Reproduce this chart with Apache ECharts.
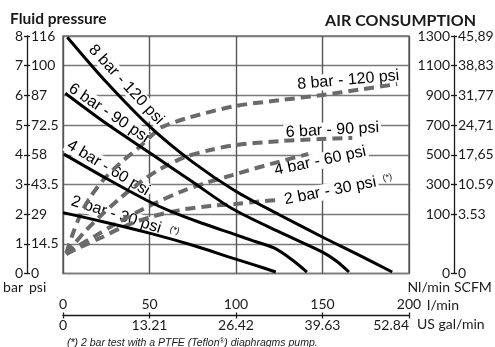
<!DOCTYPE html>
<html>
<head>
<meta charset="utf-8">
<script src="https://cdn.jsdelivr.net/npm/echarts@6/dist/echarts.min.js"></script>
<style>
  html, body { margin: 0; padding: 0; background: #fff; }
  #chart { width: 495px; height: 347px; }
</style>
</head>
<body>
<div id="chart"></div>
<script>
// Axis ticks and their printed labels
const flowTicks = [0, 50, 100, 150, 200];
const galLabels = ['0', '13.21', '26.42', '39.63', '52.84'];
const psiLabels = ['0', '14.5', '29', '43.5', '58', '72.5', '87', '100', '116'];
const airTicks = [-300, 100, 300, 500, 700, 900, 1100, 1300];
const nlLabels = ['0', '100', '300', '500', '700', '900', '1100', '1300'];
const scfmLabels = ['0', '3.53', '10.59', '17,65', '24,71', '31,77', '38,83', '45,89'];

// Fluid pressure (bar) against flow (l/min), one curve per supply pressure
const pressure8 = [[2.5, 7.96], [25, 6.45], [50.5, 4.93], [75, 3.75], [99.6, 2.78], [125, 1.98], [149.9, 1.23], [170, 0.65], [190.3, 0.05]];
const pressure6 = [[1.3, 6.07], [25, 5.05], [50.5, 4.05], [75, 3.08], [97.9, 2.18], [125, 1.4], [150, 0.72], [158, 0.42], [165.3, 0.05]];
const pressure4 = [[0.5, 4.02], [25.4, 3.19], [48.6, 2.46], [62, 2.1], [80, 1.7], [99.6, 1.31], [110, 1.1], [122, 0.86], [132, 0.48], [141, 0.05]];
const pressure2 = [[0, 2.05], [25, 1.72], [50, 1.36], [75, 0.95], [98, 0.52], [110, 0.3], [123, 0.05]];

// Air consumption (Nl/min) against flow (l/min)
const air8 = [[1.9, -162], [5.4, -41], [10, 94], [15.8, 215], [23.3, 330], [33.1, 444], [43.5, 545], [51.6, 633], [57.4, 687], [71.8, 747], [99.6, 828], [125.6, 868], [149.9, 902], [171.9, 940], [193.2, 976]];
const air6 = [[1.9, -169], [6.5, -101], [12.9, -14], [21.6, 87], [33.1, 208], [44.7, 316], [56.2, 404], [70.7, 485], [85.1, 532], [99.6, 565], [125.6, 592], [148.7, 606], [167.2, 613]];
const air4 = [[1.9, -169], [8.8, -115], [18.7, -47], [30.2, 33], [41.8, 107], [53.4, 175], [67.8, 249], [82.3, 309], [97.9, 363], [119.8, 437], [141.8, 505]];
const air2 = [[1.9, -169], [10, -122], [21.6, -61], [36, 20], [50.5, 80], [67.8, 128], [85.1, 155], [99.6, 168], [114, 185], [123.9, 195]];

const humanist = 'Lato';
const arial = 'Liberation Sans';
const ink = '#1a1a1a';

const chart = echarts.init(document.getElementById('chart'), null, { renderer: 'canvas' });

function solid(data) {
  return {
    type: 'line', data, xAxisIndex: 0, yAxisIndex: 0,
    smooth: 0.3, showSymbol: false, silent: true,
    lineStyle: { color: '#000', width: 3 }, z: 3
  };
}
function dashed(data) {
  return {
    type: 'line', data, xAxisIndex: 0, yAxisIndex: 2,
    smooth: 0.3, showSymbol: false, silent: true,
    lineStyle: { color: '#6a6a6a', width: 4, type: [10, 6], cap: 'butt' }, z: 3
  };
}

const tickLabel = { fontFamily: humanist, fontSize: 14, color: ink };
const axisInk = { color: ink, width: 1.3 };

chart.setOption({
  animation: false,
  title: [
    { text: 'Fluid pressure', left: 5, top: 6, textStyle: { fontFamily: humanist, fontSize: 15.5, fontWeight: 'bold', color: ink } },
    { text: 'AIR CONSUMPTION', right: 14, top: 8, textStyle: { fontFamily: humanist, fontSize: 16, fontWeight: 'bold', color: ink } },
    {
      text: '(*) 2 bar test with a PTFE (Teflon{sup|®}) diaphragms pump.', left: 62, top: 333,
      textStyle: {
        fontFamily: arial, fontSize: 10.5, fontStyle: 'italic', fontWeight: 'normal', color: ink,
        rich: { sup: { fontFamily: arial, fontSize: 6.5, fontStyle: 'italic', fontWeight: 'normal', verticalAlign: 'top', color: ink } }
      }
    }
  ],
  grid: {
    left: 63, right: 86, top: 36, bottom: 73.5,
    outerBoundsMode: 'none',
    show: true, borderColor: '#6e6e6e', borderWidth: 1.5
  },
  xAxis: [
    {
      type: 'value', min: 0, max: 200, interval: 50, position: 'bottom', offset: 42,
      axisLine: { show: true, onZero: false, lineStyle: axisInk },
      axisTick: { show: true, inside: true, length: 3, lineStyle: axisInk },
      axisLabel: Object.assign({ inside: true, margin: 4 }, tickLabel),
      splitLine: { show: true, lineStyle: { color: '#555', width: 1.4 } },
      name: 'l/min', nameLocation: 'end', nameGap: 15,
      nameTextStyle: Object.assign({ verticalAlign: 'bottom', padding: [0, 0, 3, 0] }, tickLabel)
    },
    {
      type: 'value', min: 0, max: 200, interval: 50, position: 'bottom', offset: 42,
      axisLine: { show: false, onZero: false },
      axisTick: { show: true, inside: false, length: 3, lineStyle: axisInk },
      axisLabel: Object.assign({ margin: 3, alignMaxLabel: 'right', formatter: v => galLabels[flowTicks.indexOf(v)] }, tickLabel),
      splitLine: { show: false },
      name: 'US gal/min', nameLocation: 'end', nameGap: 8,
      nameTextStyle: Object.assign({ verticalAlign: 'top', padding: [2, 0, 0, 0] }, tickLabel)
    }
  ],
  yAxis: [
    {
      type: 'value', min: 0, max: 8, interval: 1, position: 'left', offset: 36,
      axisLine: { show: true, onZero: false, lineStyle: axisInk },
      axisTick: { show: true, inside: false, length: 3, lineStyle: axisInk },
      axisLabel: Object.assign({ margin: 4 }, tickLabel),
      splitLine: { show: true, lineStyle: { color: '#7a7a7a', width: 1.4 } },
      name: 'bar', nameLocation: 'start', nameGap: 3,
      nameTextStyle: Object.assign({ align: 'right', verticalAlign: 'top', padding: [0, 4, 0, 0] }, tickLabel)
    },
    {
      type: 'value', min: 0, max: 8, interval: 1, position: 'left', offset: 36,
      axisLine: { show: false, onZero: false },
      axisTick: { show: true, inside: true, length: 3, lineStyle: axisInk },
      axisLabel: Object.assign({ inside: true, margin: 4, formatter: v => psiLabels[Math.round(v)] }, tickLabel),
      splitLine: { show: false },
      name: 'psi', nameLocation: 'start', nameGap: 3,
      nameTextStyle: Object.assign({ align: 'left', verticalAlign: 'top', padding: [0, 0, 0, 2] }, tickLabel)
    },
    {
      type: 'value', min: -300, max: 1300, position: 'right', offset: 45,
      axisLine: { show: true, onZero: false, lineStyle: axisInk },
      axisTick: { show: true, inside: true, length: 3, customValues: airTicks, lineStyle: axisInk },
      axisLabel: Object.assign({ inside: true, margin: 4, customValues: airTicks, formatter: v => nlLabels[airTicks.indexOf(v)] }, tickLabel),
      splitLine: { show: false },
      name: 'Nl/min', nameLocation: 'start', nameGap: 3,
      nameTextStyle: Object.assign({ align: 'right', verticalAlign: 'top', padding: [0, 4, 0, 0] }, tickLabel)
    },
    {
      type: 'value', min: -300, max: 1300, position: 'right', offset: 45,
      axisLine: { show: false, onZero: false },
      axisTick: { show: true, inside: false, length: 3, customValues: airTicks, lineStyle: axisInk },
      axisLabel: Object.assign({ margin: 4, customValues: airTicks, formatter: v => scfmLabels[airTicks.indexOf(v)] }, tickLabel),
      splitLine: { show: false },
      name: 'SCFM', nameLocation: 'start', nameGap: 3,
      nameTextStyle: Object.assign({ align: 'left', verticalAlign: 'top', padding: [0, 0, 0, 0] }, tickLabel)
    }
  ],
  series: [
    dashed(air8), dashed(air6), dashed(air4), dashed(air2),
    solid(pressure8), solid(pressure6), solid(pressure4), solid(pressure2)
  ]
});

// Curve captions, anchored in data coordinates and rotated along their curve
const pressureCaptions = [
  { text: '8 bar - 120 psi', at: [36.5, 6.36], angle: -47 },
  { text: '6 bar - 90 psi', at: [26.5, 5.4], angle: -34 },
  { text: '4 bar - 60 psi', at: [26.2, 3.55], angle: -31 },
  { text: '2 bar - 30 psi', at: [30.7, 1.98], angle: -17.5 },
  { text: '(*)', at: [64.5, 1.45], angle: -17.5, small: true }
];
const airCaptions = [
  { text: '8 bar - 120 psi', at: [164.9, 1003], angle: 5 },
  { text: '6 bar - 90 psi', at: [155.7, 666], angle: 3 },
  { text: '4 bar - 60 psi', at: [148.7, 458], angle: 12 },
  { text: '2 bar - 30 psi', at: [154.5, 256], angle: 11 },
  { text: '(*)', at: [187.5, 345], angle: 11, small: true }
];

function caption(c, yAxisIndex) {
  const p = chart.convertToPixel({ xAxisIndex: 0, yAxisIndex }, c.at);
  return {
    type: 'text', x: p[0], y: p[1], rotation: c.angle * Math.PI / 180, z: 1, silent: true,
    style: {
      text: c.text, align: 'center', verticalAlign: 'middle',
      fontFamily: arial, fontSize: c.small ? 9 : 16, fill: '#000',
      backgroundColor: '#fff', padding: c.small ? [0, 1] : [0, 2]
    }
  };
}

chart.setOption({
  graphic: pressureCaptions.map(c => caption(c, 0)).concat(airCaptions.map(c => caption(c, 2)))
});
</script>
</body>
</html>
